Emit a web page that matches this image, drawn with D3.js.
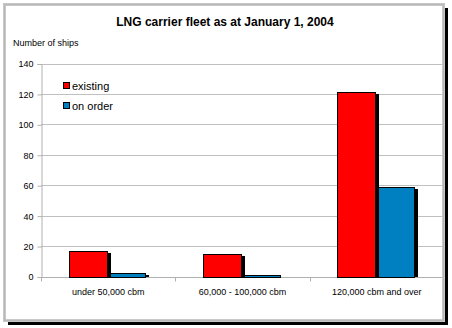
<!DOCTYPE html>
<html><head><meta charset="utf-8">
<script src="https://cdn.jsdelivr.net/npm/d3@7/dist/d3.min.js"></script>
<style>
html,body{margin:0;padding:0;background:#fff;}
svg{display:block;font-family:Arial,"Liberation Sans",sans-serif;}
</style></head>
<body>
<svg id="chart" width="452" height="328"></svg>
<script>
const categories = ["under 50,000 cbm", "60,000 - 100,000 cbm", "120,000 cbm and over"];
const seriesNames = ["existing", "on order"];
const existing = [17, 15, 121];
const onOrder = [2, 1, 59];
const yTicks = [0, 20, 40, 60, 80, 100, 120, 140];
const colors = ["#ff0000", "#0080c0"];
const title = "LNG carrier fleet as at January 1, 2004";
const yTitle = "Number of ships";

const seriesValues = [existing, onOrder];
const svg = d3.select("#chart");

const x0 = d3.scaleBand().domain(categories).range([41, 444]).padding(0);
const x1 = d3.scaleBand().domain(seriesNames).range([0, x0.bandwidth()]).paddingInner(0).paddingOuter(0.744);
const y = d3.scaleLinear().domain([0, 140]).range([276.5, 63.5]);
const yr = v => Math.round(y(v)) + 0.5;

// gridlines
svg.append("g").selectAll("line").data(yTicks.filter(d => d > 0)).join("line")
  .attr("x1", 41).attr("x2", 444)
  .attr("y1", d => yr(d)).attr("y2", d => yr(d))
  .attr("stroke", "#c0c0c0").attr("stroke-width", 1);

// y axis
const yAxis = d3.axisLeft(y).tickValues(yTicks).tickSize(4).tickPadding(4);
const gy = svg.append("g").attr("transform", "translate(41.5,0.5)").call(yAxis);
gy.select(".domain").attr("stroke", "#b0b0b0");
gy.selectAll(".tick line").attr("stroke", "#b0b0b0");
gy.selectAll(".tick text").attr("font-size", 9).attr("fill", "#000")
  .attr("font-family", "Arial, 'Liberation Sans', sans-serif");

// x axis
const xAxis = d3.axisBottom(x0).tickSize(0).tickPadding(0);
const gx = svg.append("g").attr("transform", `translate(0,${yr(0)})`).call(xAxis);
gx.select(".domain").remove();
gx.append("line").attr("x1", 41).attr("x2", 444).attr("stroke", "#b0b0b0");
gx.selectAll(".tick text").attr("font-size", 9).attr("fill", "#000").attr("y", 17).attr("dy", 0)
  .attr("font-family", "Arial, 'Liberation Sans', sans-serif");
const bounds = categories.map(c => x0(c)).concat([x0.range()[1]]);
gx.selectAll(".bt").data(bounds).join("line").attr("class", "bt")
  .attr("x1", d => Math.round(d) + 0.5).attr("x2", d => Math.round(d) + 0.5)
  .attr("y1", 0).attr("y2", 4).attr("stroke", "#b0b0b0");

// bars with shadows; draw later series first so earlier series' shadow overlaps
const bars = svg.append("g");
for (let s = seriesNames.length - 1; s >= 0; s--) {
  categories.forEach((c, i) => {
    const v = seriesValues[s][i];
    const bx = Math.round(x0(c) + x1(seriesNames[s])) - 1;
    const bw = Math.round(x1.bandwidth());
    const top = Math.round(y(v));
    const base = Math.round(y(0));
    bars.append("rect").attr("x", bx + 1).attr("y", top + 2)
      .attr("width", bw + 2).attr("height", Math.max(0, base - top - 2)).attr("fill", "#000");
    bars.append("rect").attr("x", bx + 0.5).attr("y", top + 0.5)
      .attr("width", bw - 1).attr("height", Math.max(0, base - top))
      .attr("fill", colors[s]).attr("stroke", "#000").attr("stroke-width", 1);
  });
}

// title
svg.append("text").attr("x", 225).attr("y", 26).attr("text-anchor", "middle")
  .attr("font-size", 12).attr("font-weight", "bold").text(title);
svg.append("text").attr("x", 13).attr("y", 46).attr("font-size", 9).text(yTitle);

// legend
const lg = svg.append("g");
seriesNames.forEach((n, i) => {
  const cy = 86 + i * 20;
  lg.append("rect").attr("x", 63.5).attr("y", cy - 3.5).attr("width", 6).attr("height", 6)
    .attr("fill", colors[i]).attr("stroke", "#000");
  lg.append("text").attr("x", 72).attr("y", cy + 4).attr("font-size", 11).text(n);
});

// frame
svg.append("rect").attr("x", 4.5).attr("y", 4.5).attr("width", 439).attr("height", 316)
  .attr("fill", "none").attr("stroke", "#c8c8c8").attr("stroke-width", 3);
svg.append("rect").attr("x", 4.5).attr("y", 4.5).attr("width", 439).attr("height", 316)
  .attr("fill", "none").attr("stroke", "#a8a8a8").attr("stroke-width", 1).attr("stroke-dasharray", "1,1");
svg.append("rect").attr("x", 445).attr("y", 8).attr("width", 3).attr("height", 317).attr("fill", "#000");
svg.append("rect").attr("x", 8).attr("y", 322).attr("width", 440).attr("height", 3).attr("fill", "#000");
</script>
</body></html>
